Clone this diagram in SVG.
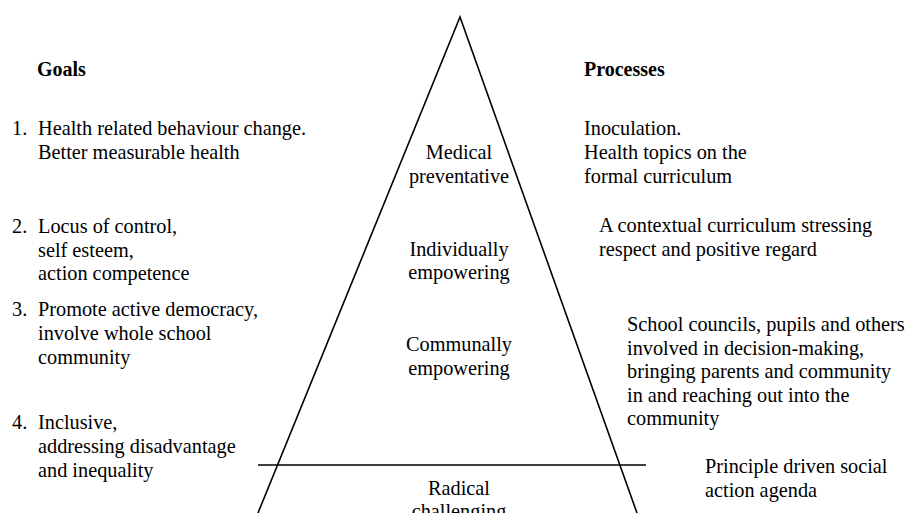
<svg xmlns="http://www.w3.org/2000/svg" width="908" height="513" viewBox="0 0 908 513">
<style>
text{font-family:"Liberation Serif","Times New Roman",serif;font-size:20.3px;fill:#000}
.b{font-weight:bold;font-size:20px}
.c{text-anchor:middle}
.ln{stroke:#000;stroke-width:1.6;fill:none}
</style>
<rect width="908" height="513" fill="#fff"/>
<g id="connectors">
<polyline class="ln" points="258,513 460,17 637,513"/>
<line class="ln" x1="258" y1="465" x2="646" y2="465"/>
</g>
<g id="goals-title"><text class="b" x="37" y="76">Goals</text></g>
<g id="processes-title"><text class="b" x="584" y="76">Processes</text></g>
<g id="goal1">
<text x="12" y="135">1.</text>
<text x="38" y="135">Health related behaviour change.</text>
<text x="38" y="159">Better measurable health</text>
</g>
<g id="goal2">
<text x="12" y="233">2.</text>
<text x="38" y="233">Locus of control,</text>
<text x="38" y="257">self esteem,</text>
<text x="38" y="280">action competence</text>
</g>
<g id="goal3">
<text x="12" y="316">3.</text>
<text x="38" y="316">Promote active democracy,</text>
<text x="38" y="340">involve whole school</text>
<text x="38" y="364">community</text>
</g>
<g id="goal4">
<text x="12" y="429">4.</text>
<text x="38" y="429">Inclusive,</text>
<text x="38" y="453">addressing disadvantage</text>
<text x="38" y="477">and inequality</text>
</g>
<g id="level1">
<text class="c" x="459" y="159">Medical</text>
<text class="c" x="459" y="183">preventative</text>
</g>
<g id="level2">
<text class="c" x="459" y="256">Individually</text>
<text class="c" x="459" y="279">empowering</text>
</g>
<g id="level3">
<text class="c" x="459" y="351">Communally</text>
<text class="c" x="459" y="375">empowering</text>
</g>
<g id="level4">
<text class="c" x="459" y="495">Radical</text>
<text class="c" x="459" y="518">challenging</text>
</g>
<g id="process1">
<text x="584" y="135">Inoculation.</text>
<text x="584" y="159">Health topics on the</text>
<text x="584" y="183">formal curriculum</text>
</g>
<g id="process2">
<text x="599" y="232">A contextual curriculum stressing</text>
<text x="599" y="256">respect and positive regard</text>
</g>
<g id="process3">
<text x="627" y="331">School councils, pupils and others</text>
<text x="627" y="354.5">involved in decision-making,</text>
<text x="627" y="378">bringing parents and community</text>
<text x="627" y="401.5">in and reaching out into the</text>
<text x="627" y="425">community</text>
</g>
<g id="process4">
<text x="705" y="473">Principle driven social</text>
<text x="705" y="497">action agenda</text>
</g>
</svg>
